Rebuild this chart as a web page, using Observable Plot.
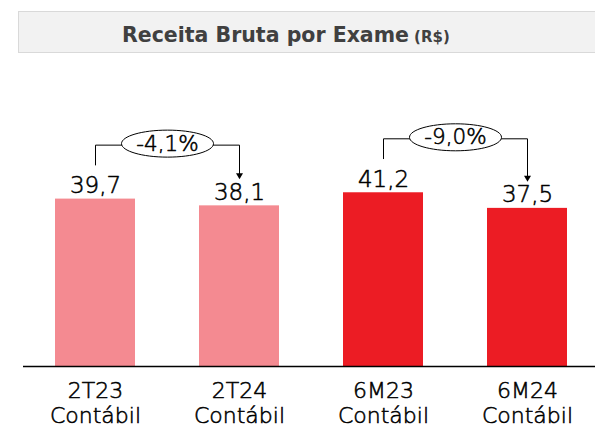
<!DOCTYPE html>
<html>
<head>
<meta charset="utf-8">
<script src="https://cdn.jsdelivr.net/npm/d3@7"></script>
<script src="https://cdn.jsdelivr.net/npm/@observablehq/plot@0.6"></script>
<style>
  html, body { margin: 0; padding: 0; background: #fff; }
  body { width: 595px; height: 430px; overflow: hidden; font-family: "DejaVu Sans", sans-serif; }
  #title {
    margin: 11px 0 0 18px; width: 600px; height: 42px; box-sizing: border-box;
    background: #f2f2f2; border: 1px solid #d9d9d9; border-right: none;
    color: #404040; font-weight: bold; font-size: 20.5px; line-height: 38px;
    padding: 4px 0 0 103px; white-space: nowrap;
  }
  #title small { font-size: 15px; margin-left: -2px; }
  #chart svg { display: block; }
  #chart svg g[aria-label="x-axis tick label"] text { stroke: #000; stroke-width: 0.55px; }
</style>
</head>
<body>
<div id="title">Receita Bruta por Exame <small>(R$)</small></div>
<div id="chart"></div>
<script>
// Data
const categories = ["2T23", "2T24", "6M23", "6M24"];
const tickLabels = ["2T23\nContábil", "2T24\nContábil", "6M23\nContábil", "6M24\nContábil"];
const values = [39.7, 38.1, 41.2, 37.5];
const valueLabels = ["39,7", "38,1", "41,2", "37,5"];
const groups = ["2T", "2T", "6M", "6M"];
const changeFrom = ["2T23", "6M23"];
const changeTo = ["2T24", "6M24"];
const changeLabels = ["-4,1%", "-9,0%"];

const bars = categories.map((c, i) => ({cat: c, value: values[i], label: valueLabels[i], group: groups[i]}));
const valOf = c => values[categories.indexOf(c)];
const changes = changeFrom.map((f, i) => {
  const top = Math.max(valOf(f), valOf(changeTo[i]));
  return {
    from: f, to: changeTo[i], label: changeLabels[i],
    level: top + 12.8,
    fromEnd: valOf(f) + 8,
    toEnd: valOf(changeTo[i]) + 6.8
  };
});

const ellipse = {
  draw(ctx) {
    const rx = 46, ry = 13.5, k = 0.5523;
    ctx.moveTo(rx, 0);
    ctx.bezierCurveTo(rx, ry * k, rx * k, ry, 0, ry);
    ctx.bezierCurveTo(-rx * k, ry, -rx, ry * k, -rx, 0);
    ctx.bezierCurveTo(-rx, -ry * k, -rx * k, -ry, 0, -ry);
    ctx.bezierCurveTo(rx * k, -ry, rx, -ry * k, rx, 0);
    ctx.closePath();
  }
};

const fontFam = "DejaVu Sans";
const thick = {fill: "#000", stroke: "#000", strokeWidth: 0.55, fontWeight: 300};
const chart = Plot.plot({
  width: 595,
  height: 377,
  marginLeft: 23,
  marginRight: 0,
  marginTop: 60,
  marginBottom: 64,
  style: {fontFamily: fontFam, background: "transparent", overflow: "visible"},
  x: {domain: categories, range: [23, 599], paddingInner: 0.444, paddingOuter: 0.222, label: null},
  y: {domain: [0, 60], axis: null},
  color: {domain: ["2T", "6M"], range: ["#f48a91", "#ec1c24"]},
  marks: [
    Plot.barY(bars, {x: "cat", y: "value", fill: "group"}),
    Plot.ruleY([0], {stroke: "#000", strokeWidth: 1.5}),
    Plot.axisX({
      tickSize: 0, tickPadding: 14, fontSize: 22, lineHeight: 1.13, fill: "#000", fontWeight: 300,
      tickFormat: d => tickLabels[categories.indexOf(d)]
    }),
    Plot.text(bars, {x: "cat", y: "value", text: "label", fontSize: 23, ...thick, lineAnchor: "bottom", dy: -6}),
    // bracket: left vertical
    Plot.link(changes, {x1: "from", x2: "from", y1: "fromEnd", y2: "level", stroke: "#000", strokeWidth: 1}),
    // horizontal
    Plot.link(changes, {x1: "from", x2: "to", y1: "level", y2: "level", stroke: "#000", strokeWidth: 1}),
    // right vertical
    Plot.link(changes, {x1: "to", x2: "to", y1: "level", y2: "toEnd", stroke: "#000", strokeWidth: 1}),
    Plot.dot(changes, {x: "to", y: "toEnd", symbol: "triangle", r: 2.6, rotate: 180, fill: "#000", stroke: null, dy: -2}),
    Plot.dot(changes, {x: "from", y: "level", symbol: ellipse, fill: "#fff", stroke: "#000", strokeWidth: 1, dx: 72, dy: -1.5}),
    Plot.text(changes, {x: "from", y: "level", text: "label", fontSize: 21.5, ...thick, dx: 72, dy: -1.5})
  ]
});
document.getElementById("chart").appendChild(chart);
</script>
</body>
</html>
